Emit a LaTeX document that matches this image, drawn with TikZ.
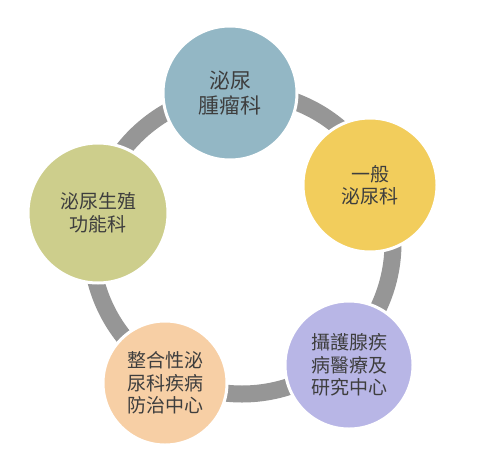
\documentclass[tikz,border=0pt]{standalone}
\usepackage{fontspec}
\newfontfamily\cjk{Noto Sans CJK TC}
\definecolor{ringgray}{HTML}{969696}
\definecolor{onccol}{HTML}{93B7C5}
\definecolor{gencol}{HTML}{F2CD5C}
\definecolor{procol}{HTML}{B8B6E6}
\definecolor{intcol}{HTML}{F7CFA5}
\definecolor{funcol}{HTML}{CDCE8C}
\definecolor{txtcol}{HTML}{3E3E3E}
\tikzset{
  ringline/.style={draw=ringgray, line width=17pt},
  hub/.style={circle, draw=white, line width=3pt, inner sep=0pt, align=center,
    text=txtcol, font=\cjk\fontsize{19}{22.5}\selectfont},
  bighub/.style={hub, font=\cjk\fontsize{21}{25}\selectfont}
}
\begin{document}
\begin{tikzpicture}[x=1pt,y=-1pt]
\useasboundingbox[fill=white] (0,0) rectangle (500,463);
\coordinate (ringc) at (242,243);
\draw[ringline] (ringc) circle[radius=151pt];
\node[bighub, fill=onccol, minimum size=134pt] (onc) at (230,93) {泌尿\\腫瘤科};
\node[hub, fill=gencol, minimum size=134pt] (gen) at (370,185) {一般\\泌尿科};
\node[hub, fill=procol, minimum size=128pt] (pro) at (349,365) {攝護腺疾\\病醫療及\\研究中心};
\node[hub, fill=intcol, minimum size=124pt] (int) at (165,383) {整合性泌\\尿科疾病\\防治中心};
\node[hub, fill=funcol, minimum size=140pt] (fun) at (98,213) {泌尿生殖\\功能科};
\end{tikzpicture}
\end{document}
